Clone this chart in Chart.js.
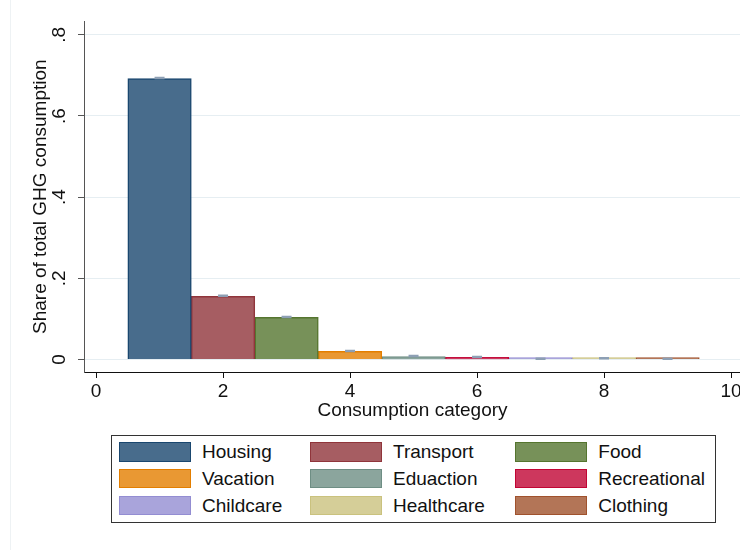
<!DOCTYPE html>
<html>
<head>
<meta charset="utf-8">
<script src="https://cdn.jsdelivr.net/npm/chart.js@4"></script>
<style>
    body { margin: 0; width: 740px; height: 550px; overflow: hidden; background: #fff; position: relative; font-family: "Liberation Sans", Arial, sans-serif; }
    #chart { position: absolute; left: 0; top: 0; }
    #edge { position: absolute; left: 10px; top: 0; width: 1px; height: 550px; background: #eef2f4; }
    #legend {
        position: absolute; left: 111px; top: 435px; width: 605px; height: 88px;
        box-sizing: border-box; border: 1px solid #333; padding: 6.3px 0 0 7px;
        display: grid; grid-template-columns: 191px 205.3px auto; grid-auto-rows: 19.5px;
        row-gap: 7.2px;
    }
    .item { display: flex; align-items: center; height: 19.5px; line-height: 19.5px; font-size: 19px; color: #111; white-space: nowrap; }
    .sw { width: 72px; height: 19.5px; box-sizing: border-box; border: 1.5px solid; margin-right: 11px; flex: none; }
</style>
</head>
<body>
<div id="edge"></div>
<canvas id="chart" width="760" height="430"></canvas>
<div id="legend"></div>
<script>
    // consumption categories, in plotting order 1..9
    const categories = ['Housing', 'Transport', 'Food', 'Vacation', 'Eduaction', 'Recreational', 'Childcare', 'Healthcare', 'Clothing'];
    const positions = [1, 2, 3, 4, 5, 6, 7, 8, 9];
    // mean share of total GHG consumption
    const shares = [0.692, 0.156, 0.104, 0.020, 0.007, 0.0055, 0.0015, 0.0025, 0.0015];
    // upper confidence limits (the small caps)
    const ciUpper = [0.6935, 0.157, 0.105, 0.021, 0.0085, 0.0065, 0.002, 0.003, 0.002];
    const xTicks = [0, 2, 4, 6, 8, 10];
    const yTicks = [0, 0.2, 0.4, 0.6, 0.8];

    const fillColors = ['#486c8c', '#a65d62', '#779159', '#e99833', '#8ba59d', '#cd375d', '#a9a4db', '#d5ce98', '#b37557'];
    const lineColors = ['#1a476f', '#90353b', '#55752f', '#e37e00', '#6e8e84', '#c10534', '#938dd2', '#cac27e', '#a0522d'];

    const font = { family: '"Liberation Sans", Arial, sans-serif', size: 19 };

    const barSets = categories.map((name, i) => ({
        type: 'bar',
        label: name,
        data: [{ x: positions[i], y: shares[i] }],
        backgroundColor: fillColors[i],
        borderColor: lineColors[i],
        borderWidth: 1.5,
        barPercentage: 1,
        categoryPercentage: 1,
        minBarLength: 2,
        grouped: false
    }));

    const capSet = {
        type: 'scatter',
        label: 'ci',
        data: positions.map((p, i) => ({ x: p, y: ciUpper[i] })),
        pointStyle: 'line',
        pointRadius: 5,
        borderWidth: 2.5,
        borderColor: '#8d9fb4',
        order: -1
    };

    new Chart(document.getElementById('chart'), {
        type: 'bar',
        data: { datasets: [...barSets, capSet] },
        options: {
            responsive: false,
            animation: false,
            layout: { padding: { left: 27, top: 20, right: 19, bottom: 8 } },
            plugins: { legend: { display: false }, tooltip: { enabled: false } },
            scales: {
                x: {
                    type: 'linear',
                    min: -0.19,
                    max: 10.157,
                    offset: false,
                    afterBuildTicks: (s) => { s.ticks = xTicks.map(v => ({ value: v })); },
                    afterFit: (s) => { s.height = 50; },
                    ticks: { font, color: '#111', padding: 2, maxRotation: 0 },
                    grid: { drawOnChartArea: false, offset: false, tickLength: 6, tickColor: '#111' },
                    border: { color: '#111', width: 1 },
                    title: { display: true, text: 'Consumption category', font, color: '#111', padding: { top: 0, bottom: 0 } }
                },
                y: {
                    min: -0.0307,
                    max: 0.833,
                    afterBuildTicks: (s) => { s.ticks = yTicks.map(v => ({ value: v })); },
                    afterFit: (s) => { s.width = 57; },
                    ticks: {
                        font, color: '#111', padding: 10, minRotation: 90, maxRotation: 90, crossAlign: 'center',
                        callback: (v) => v === 0 ? '0' : String(Math.round(v * 10) / 10).replace(/^0/, '')
                    },
                    grid: { color: '#e6eef2', tickLength: 6, tickColor: '#555' },
                    border: { color: '#555', width: 1 },
                    title: { display: true, text: 'Share of total GHG consumption', font, color: '#111', padding: { top: 2, bottom: 2 } }
                }
            }
        }
    });

    const legend = document.getElementById('legend');
    categories.forEach((name, i) => {
        const item = document.createElement('div');
        item.className = 'item';
        const sw = document.createElement('span');
        sw.className = 'sw';
        sw.style.background = fillColors[i];
        sw.style.borderColor = lineColors[i];
        item.appendChild(sw);
        item.appendChild(document.createTextNode(name));
        legend.appendChild(item);
    });
</script>
</body>
</html>
